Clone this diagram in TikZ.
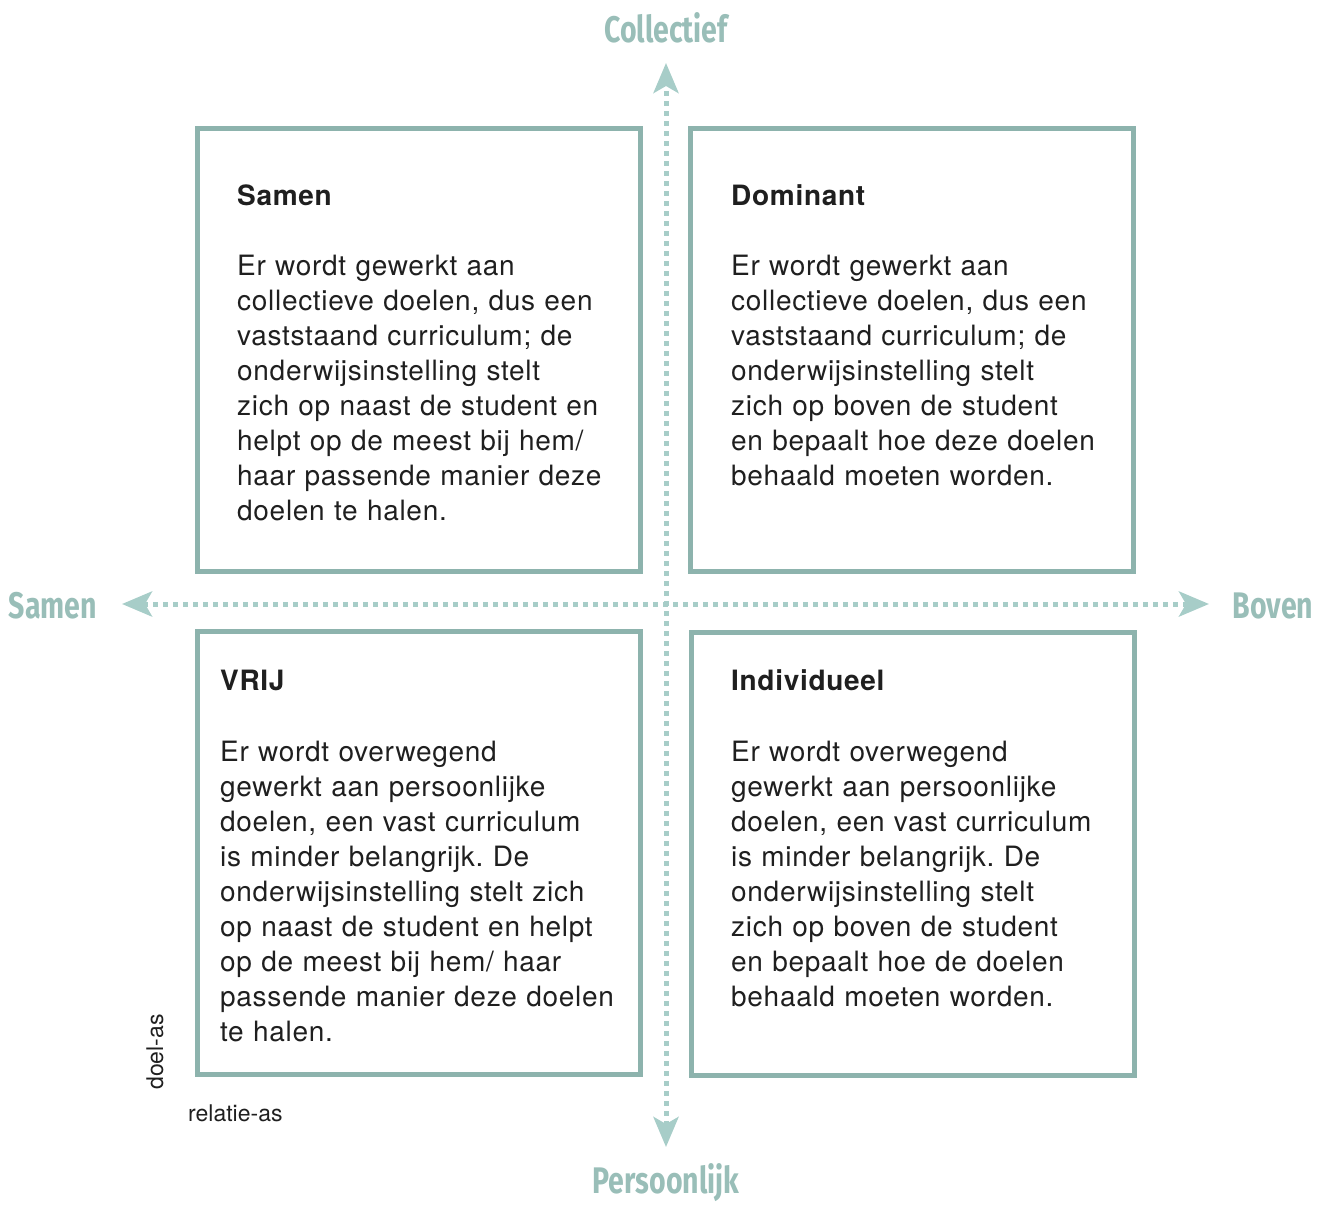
\documentclass[tikz,border=0pt]{standalone}
\usepackage{fontspec}
\setmainfont{TeX Gyre Heros}
\newfontfamily\bodyfont[LetterSpace=2.5]{TeX Gyre Heros}
\newfontfamily\axisfont[FakeStretch=0.77]{Fira Sans}
\usetikzlibrary{arrows.meta}
\definecolor{boxcol}{HTML}{8DB3AD}
\definecolor{labcol}{HTML}{99BEB8}
\definecolor{axcol}{HTML}{A7CDC8}
\frenchspacing
\tikzset{
  quad/.style={draw=boxcol, line width=5pt, minimum width=443pt, minimum height=443pt, inner sep=0pt},
  title/.style={anchor=base west, inner sep=0pt, font=\fontsize{28}{35}\selectfont\bodyfont\bfseries, text=black!88},
  body/.style={anchor=base west, inner sep=0pt, align=left, text width=430pt, font=\fontsize{28}{35}\selectfont\bodyfont, text=black!88},
  axlab/.style={anchor=base, inner sep=0pt, font=\fontsize{37}{40}\selectfont\axisfont\bfseries, text=labcol},
  axline/.style={draw=axcol, line width=5pt, dash pattern=on 5pt off 5pt, {Stealth[length=30pt,width=25pt,inset=7pt]}-{Stealth[length=30pt,width=25pt,inset=7pt]}},
  small/.style={inner sep=0pt, font=\fontsize{23}{26}\selectfont, text=black!88}
}
\begin{document}
\begin{tikzpicture}[x=1pt,y=-1pt]
\useasboundingbox (0,0) rectangle (1326,1205);
% boxes
\node[quad] (tl) at (418.5,349.5) {};
\node[quad] (tr) at (911.5,349.5) {};
\node[quad] (bl) at (418.5,853) {};
\node[quad] (br) at (912.5,854) {};
% axes
\coordinate (top) at (666,63);
\coordinate (bot) at (666,1147);
\coordinate (left) at (122,604);
\coordinate (right) at (1209,604);
\draw[axline] (bot) -- (top);
\draw[axline] (left) -- (right);
\node[axlab] (lc) at (666,42) {Collectief};
\node[axlab] (lp) at (666,1193) {Persoonlijk};
\node[axlab] (ls) at (53,618) {Samen};
\node[axlab] (lb) at (1273,618) {Boven};
% texts
\node[title] (t1) at (237,205) {Samen};
\node[body] (b1) at (237,275) {Er wordt gewerkt aan\\collectieve doelen, dus een\\vaststaand curriculum; de\\onderwijsinstelling stelt\\zich op naast de student en\\helpt op de meest bij hem/\\haar passende manier deze\\doelen te halen.};
\node[title] (t2) at (731,205) {Dominant};
\node[body] (b2) at (731,275) {Er wordt gewerkt aan\\collectieve doelen, dus een\\vaststaand curriculum; de\\onderwijsinstelling stelt\\zich op boven de student\\en bepaalt hoe deze doelen\\behaald moeten worden.};
\node[title] (t3) at (220,690) {VRIJ};
\node[body] (b3) at (220,761) {Er wordt overwegend\\gewerkt aan persoonlijke\\doelen, een vast curriculum\\is minder belangrijk. De\\onderwijsinstelling stelt zich\\op naast de student en helpt\\op de meest bij hem/ haar\\passende manier deze doelen\\te halen.};
\node[title] (t4) at (731,690) {Individueel};
\node[body] (b4) at (731,761) {Er wordt overwegend\\gewerkt aan persoonlijke\\doelen, een vast curriculum\\is minder belangrijk. De\\onderwijsinstelling stelt\\zich op boven de student\\en bepaalt hoe de doelen\\behaald moeten worden.};
\node[small, rotate=90] (da) at (155,1052) {doel-as};
\node[small, anchor=base west] (ra) at (188,1121) {relatie-as};
\end{tikzpicture}
\end{document}
